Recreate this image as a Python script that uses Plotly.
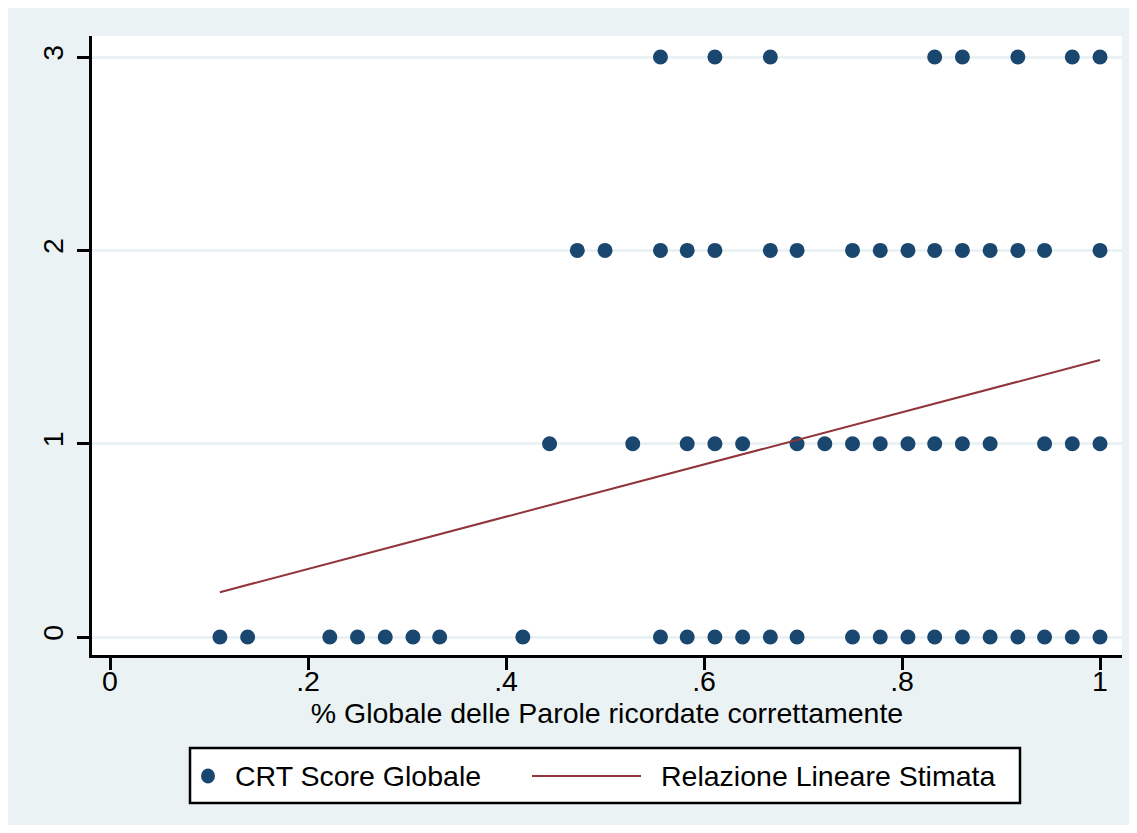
import plotly.graph_objects as go

# ---- data ----
x_score0 = [0.111, 0.139, 0.222, 0.250, 0.278, 0.306, 0.333, 0.417, 0.556, 0.583,
            0.611, 0.639, 0.667, 0.694, 0.750, 0.778, 0.806, 0.833, 0.861, 0.889,
            0.917, 0.944, 0.972, 1.000]
x_score1 = [0.444, 0.528, 0.583, 0.611, 0.639, 0.694, 0.722, 0.750, 0.778, 0.806,
            0.833, 0.861, 0.889, 0.944, 0.972, 1.000]
x_score2 = [0.472, 0.500, 0.556, 0.583, 0.611, 0.667, 0.694, 0.750, 0.778, 0.806,
            0.833, 0.861, 0.889, 0.917, 0.944, 1.000]
x_score3 = [0.556, 0.611, 0.667, 0.833, 0.861, 0.917, 0.972, 1.000]
score_levels = [0, 1, 2, 3]

fit_x = [0.111, 1.000]
fit_y = [0.232, 1.433]

x_tickvals = [0, 0.2, 0.4, 0.6, 0.8, 1.0]
x_ticktext = ["0", ".2", ".4", ".6", ".8", "1"]
y_tickvals = [0, 1, 2, 3]
y_ticktext = ["0", "1", "2", "3"]

x_title = "% Globale delle Parole ricordate correttamente"
legend_labels = ["CRT Score Globale", "Relazione Lineare Stimata"]

# ---- styling ----
# page has an 8px body margin, so the figure is 16px smaller than the window
OFF = 8
W, H = 1121, 817
L, R, T, B = 84, 7, 28, 170
PW, PH = W - L - R, H - T - B
BG = "#EAF2F3"
NAVY = "#1A476F"
MAROON = "#90353B"
FONT = "Liberation Sans, Arial, sans-serif"
FS = 28.5


def px(sx):
    """screen x (px) -> paper fraction"""
    return (sx - OFF - L) / PW


def py(sy):
    """screen y (px) -> paper fraction"""
    return (H - B - (sy - OFF)) / PH


xs, ys = [], []
for lvl, row in zip(score_levels, [x_score0, x_score1, x_score2, x_score3]):
    xs += row
    ys += [lvl] * len(row)

fig = go.Figure()
fig.add_trace(go.Scatter(x=xs, y=ys, mode="markers", name=legend_labels[0],
                         marker=dict(color=NAVY, size=15, line=dict(width=0)),
                         showlegend=False))
fig.add_trace(go.Scatter(x=fit_x, y=fit_y, mode="lines", name=legend_labels[1],
                         line=dict(color=MAROON, width=2), showlegend=False))

shapes = [
    dict(type="rect", xref="paper", yref="paper", x0=0, x1=1, y0=0, y1=1,
         fillcolor="white", line=dict(width=0), layer="below"),
    # legend box
    dict(type="rect", xref="paper", yref="paper", x0=px(190), x1=px(1020), y0=py(803), y1=py(748),
         fillcolor="white", line=dict(color="black", width=2.5), layer="above"),
    # legend line symbol
    dict(type="line", xref="paper", yref="paper", x0=px(532), x1=px(641), y0=py(776), y1=py(776),
         line=dict(color=MAROON, width=2), layer="above"),
    # legend marker symbol
    dict(type="circle", xref="paper", yref="paper", xsizemode="pixel", ysizemode="pixel",
         xanchor=px(208), yanchor=py(776), x0=-7, x1=7, y0=-7.5, y1=7.5,
         fillcolor=NAVY, line=dict(width=0), layer="above"),
]

annotations = [
    dict(xref="paper", yref="paper", x=px(233), y=py(776), text=legend_labels[0],
         showarrow=False, xanchor="left", yanchor="middle",
         font=dict(family=FONT, size=FS, color="black")),
    dict(xref="paper", yref="paper", x=px(659), y=py(776), text=legend_labels[1],
         showarrow=False, xanchor="left", yanchor="middle",
         font=dict(family=FONT, size=FS, color="black")),
]

fig.update_layout(
    width=W, height=H,
    margin=dict(l=L, r=R, t=T, b=B, pad=0),
    paper_bgcolor=BG,
    plot_bgcolor="rgba(0,0,0,0)",
    font=dict(family=FONT, size=FS, color="black"),
    shapes=shapes,
    annotations=annotations,
    showlegend=False,
)

fig.update_xaxes(
    range=[-0.0182, 1.0222],
    tickvals=x_tickvals, ticktext=x_ticktext,
    ticks="outside", ticklen=12, tickwidth=2.5, tickcolor="black",
    showline=True, linecolor="black", linewidth=3,
    showgrid=False, zeroline=False,
    title=dict(text=x_title, standoff=4, font=dict(family=FONT, size=FS)),
    tickfont=dict(family=FONT, size=FS),
    ticklabelstandoff=-13,
)
fig.update_yaxes(
    range=[-0.093, 3.109],
    tickvals=y_tickvals, ticktext=y_ticktext, tickangle=-90,
    ticks="outside", ticklen=12, tickwidth=2.5, tickcolor="black",
    showline=True, linecolor="black", linewidth=3,
    showgrid=True, gridcolor=BG, gridwidth=3,
    zeroline=False,
    tickfont=dict(family=FONT, size=FS),
    ticklabelstandoff=3,
)

fig.write_html("out.html")
